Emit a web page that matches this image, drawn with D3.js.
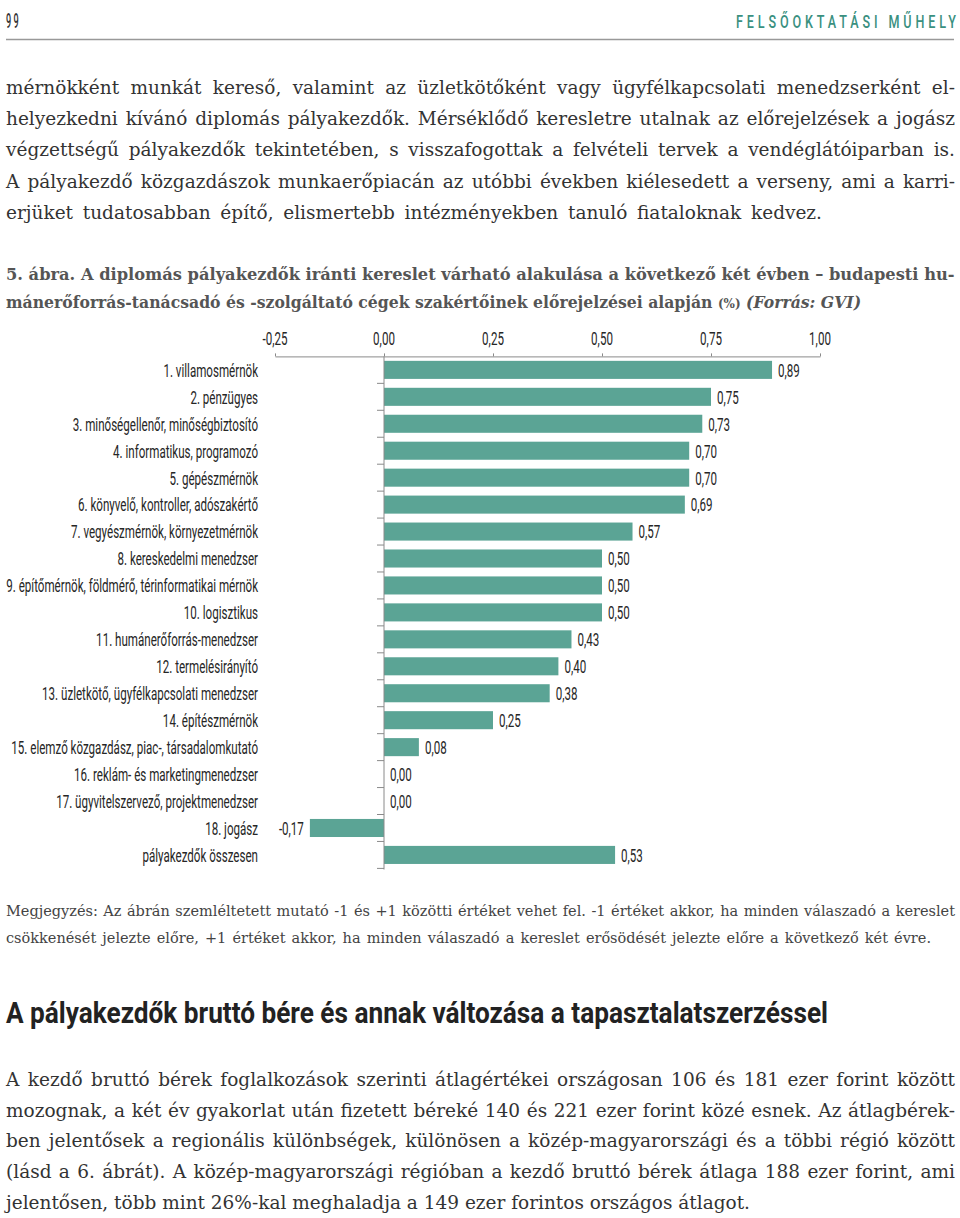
<!DOCTYPE html>
<html><head><meta charset="utf-8">
<script src="https://cdn.jsdelivr.net/npm/d3@7"></script>
<style>
html,body{margin:0;padding:0;background:#fff;}
svg{display:block;}
</style></head>
<body>
<svg id="c" width="960" height="1218"></svg>
<script>
// ---------- data ----------
const categories = [
  "1. villamosmérnök", "2. pénzügyes", "3. minőségellenőr, minőségbiztosító",
  "4. informatikus, programozó", "5. gépészmérnök", "6. könyvelő, kontroller, adószakértő",
  "7. vegyészmérnök, környezetmérnök", "8. kereskedelmi menedzser",
  "9. építőmérnök, földmérő, térinformatikai mérnök", "10. logisztikus",
  "11. humánerőforrás-menedzser", "12. termelésirányító",
  "13. üzletkötő, ügyfélkapcsolati menedzser", "14. építészmérnök",
  "15. elemző közgazdász, piac-, társadalomkutató", "16. reklám- és marketingmenedzser",
  "17. ügyvitelszervező, projektmenedzser", "18. jogász", "pályakezdők összesen"
];
const values = [0.89, 0.75, 0.73, 0.70, 0.70, 0.69, 0.57, 0.50, 0.50, 0.50, 0.43, 0.40, 0.38, 0.25, 0.08, 0.00, 0.00, -0.17, 0.53];
const tickValues = [-0.25, 0, 0.25, 0.50, 0.75, 1.00];

const para1 = [
  "mérnökként munkát kereső, valamint az üzletkötőként vagy ügyfélkapcsolati menedzserként el-",
  "helyezkedni kívánó diplomás pályakezdők. Mérséklődő keresletre utalnak az előrejelzések a jogász",
  "végzettségű pályakezdők tekintetében, s visszafogottak a felvételi tervek a vendéglátóiparban is.",
  "A pályakezdő közgazdászok munkaerőpiacán az utóbbi években kiélesedett a verseny, ami a karri-",
  "erjüket tudatosabban építő, elismertebb intézményekben tanuló fiataloknak kedvez."
];
const noteLines = [
  "Megjegyzés: Az ábrán szemléltetett mutató -1 és +1 közötti értéket vehet fel. -1 értéket akkor, ha minden válaszadó a kereslet",
  "csökkenését jelezte előre, +1 értéket akkor, ha minden válaszadó a kereslet erősödését jelezte előre a következő két évre."
];
const heading = "A pályakezdők bruttó bére és annak változása a tapasztalatszerzéssel";
const para2 = [
  "A kezdő bruttó bérek foglalkozások szerinti átlagértékei országosan 106 és 181 ezer forint között",
  "mozognak, a két év gyakorlat után fizetett béreké 140 és 221 ezer forint közé esnek. Az átlagbérek-",
  "ben jelentősek a regionális különbségek, különösen a közép-magyarországi és a többi régió között",
  "(lásd a 6. ábrát). A közép-magyarországi régióban a kezdő bruttó bérek átlaga 188 ezer forint, ami",
  "jelentősen, több mint 26%-kal meghaladja a 149 ezer forintos országos átlagot."
];

// ---------- setup ----------
const svg = d3.select("#c");
const SERIF = "'DejaVu Serif','Liberation Serif',serif";
const COND = "Roboto,'Liberation Sans',sans-serif";
const TEAL = "#5ba495";
const loc = d3.formatLocale({decimal: ",", thousands: " ", grouping: [3], currency: ["", ""], minus: "-"});
const fmt = loc.format(".2f");

// fit a group horizontally to a given width by scaling
function fitX(g, x, y, width) {
  const w = g.node().getBBox().width;
  g.attr("transform", `translate(${x},${y}) scale(${width / w},1)`);
}

// header
const g99 = svg.append("g");
g99.append("text").attr("font-family", COND).attr("font-size", 20).attr("font-weight", 500)
  .attr("fill", "#333").attr("letter-spacing", 5).text("99");
fitX(g99, 6, 28, 15);
const hg = svg.append("g").attr("transform", "translate(736,28) scale(0.7,1)");
hg.append("text").attr("x", 0).attr("y", 0).attr("font-family", COND).attr("font-size", 18)
  .attr("font-weight", 500)
  .attr("fill", "#3a907f").attr("textLength", 220 / 0.7).attr("lengthAdjust", "spacing")
  .text("FELSŐOKTATÁSI MŰHELY");
svg.append("line").attr("x1", 6).attr("x2", 954).attr("y1", 39.5).attr("y2", 39.5)
  .attr("stroke", "#999").attr("stroke-width", 1.6);

// justified paragraph helper: stretch word spacing; compress glyphs if too long
function lines(arr, x, y0, lh, size, widths, opts = {}) {
  arr.forEach((t, i) => {
    const el = svg.append("text").attr("x", x).attr("y", y0 + i * lh)
      .attr("font-family", opts.family || SERIF).attr("font-size", size)
      .attr("fill", opts.fill || "#333").attr("font-weight", opts.weight || 400)
      .text(t);
    const w = el.node().getComputedTextLength();
    const spaces = (t.match(/ /g) || []).length;
    const diff = widths[i] - w;
    if (diff > 0 && spaces > 0) {
      el.attr("word-spacing", diff / spaces);
    } else if (diff < 0) {
      el.attr("textLength", widths[i]).attr("lengthAdjust", "spacingAndGlyphs");
    }
  });
}
lines(para1, 6, 94, 31.2, 18.5, [949, 949, 949, 949, 816]);

// caption
const CAPF = "'DejaVu Serif',serif";
const c1 = svg.append("g");
c1.append("text").attr("font-family", CAPF).attr("font-size", 17).attr("font-weight", 700).attr("fill", "#555")
  .text("5. ábra. A diplomás pályakezdők iránti kereslet várható alakulása a következő két évben – budapesti hu-");
fitX(c1, 6, 280, 949);
const c2 = svg.append("g");
const c2t = c2.append("text").attr("font-family", CAPF).attr("font-size", 17).attr("font-weight", 700).attr("fill", "#555");
c2t.append("tspan").text("mánerőforrás-tanácsadó és -szolgáltató cégek szakértőinek előrejelzései alapján ");
c2t.append("tspan").attr("font-size", 13).text("(%)");
c2t.append("tspan").attr("font-style", "italic").text(" (Forrás: GVI)");
fitX(c2, 6, 308, 856);

// ---------- chart ----------
const x = d3.scaleLinear().domain([tickValues[0], tickValues[tickValues.length - 1]]).range([275, 820]);
const rows = d3.scaleBand().domain(categories).range([356.4, 868.4]).padding(0);
const barH = rows.bandwidth() * 0.67;
const FS = 19;

// condensed scale measured from longest label
const probe = svg.append("text").attr("font-family", COND).attr("font-size", FS).text(categories[8]);
const natural = probe.node().getComputedTextLength();
probe.remove();
const S = 252 / natural;

function condText(g, tx, ty, str, anchor) {
  g.append("text").attr("transform", `translate(${tx},${ty}) scale(${S},1)`)
    .attr("font-family", COND).attr("font-size", FS).attr("fill", "#262626")
    .attr("text-anchor", anchor).attr("dy", "0.36em").text(str);
}

const chart = svg.append("g");

// bars
chart.selectAll("rect.bar").data(values).join("rect").attr("class", "bar")
  .attr("x", d => Math.min(x(0), x(d)))
  .attr("width", d => Math.abs(x(d) - x(0)))
  .attr("y", (d, i) => rows(categories[i]) + (rows.bandwidth() - barH) / 2)
  .attr("height", barH)
  .attr("fill", TEAL);

// top axis
const axTop = chart.append("g").attr("transform", "translate(0,356.4)")
  .call(d3.axisTop(x).tickValues(tickValues).tickSize(3).tickSizeOuter(0).tickFormat(""));
axTop.select(".domain").attr("stroke", "#8a8a8a");
axTop.selectAll(".tick line").attr("stroke", "#8a8a8a");
tickValues.forEach(v => condText(chart, x(v), 338, fmt(v), "middle"));

// left axis (ticks at row boundaries)
const bounds = categories.map(c => rows(c) + rows.step());
chart.append("line").attr("x1", x(0)).attr("x2", x(0)).attr("y1", 356.4).attr("y2", 869.5)
  .attr("stroke", "#8a8a8a").attr("stroke-width", 1);
chart.selectAll("line.yt").data(bounds).join("line").attr("class", "yt")
  .attr("x1", x(0) - 7).attr("x2", x(0)).attr("y1", d => d).attr("y2", d => d)
  .attr("stroke", "#8a8a8a").attr("stroke-width", 1);

// category labels
categories.forEach(c => condText(chart, 258, rows(c) + rows.bandwidth() / 2, c, "end"));

// value labels
values.forEach((v, i) => {
  const cy = rows(categories[i]) + rows.bandwidth() / 2;
  if (v < 0) condText(chart, x(v) - 6, cy, fmt(v), "end");
  else condText(chart, x(v) + 6, cy, fmt(v), "start");
});

// note
lines(noteLines, 6, 916, 26.5, 14.5, [949, 925], {fill: "#444"});

// heading
svg.append("text").attr("x", 6).attr("y", 1023).attr("font-family", COND).attr("font-size", 29)
  .attr("font-weight", 700).attr("fill", "#222").attr("textLength", 822)
  .attr("lengthAdjust", "spacingAndGlyphs").text(heading);

// paragraph 2
lines(para2, 6, 1086, 30.7, 18.5, [949, 949, 949, 949, 744]);
</script>
</body></html>
